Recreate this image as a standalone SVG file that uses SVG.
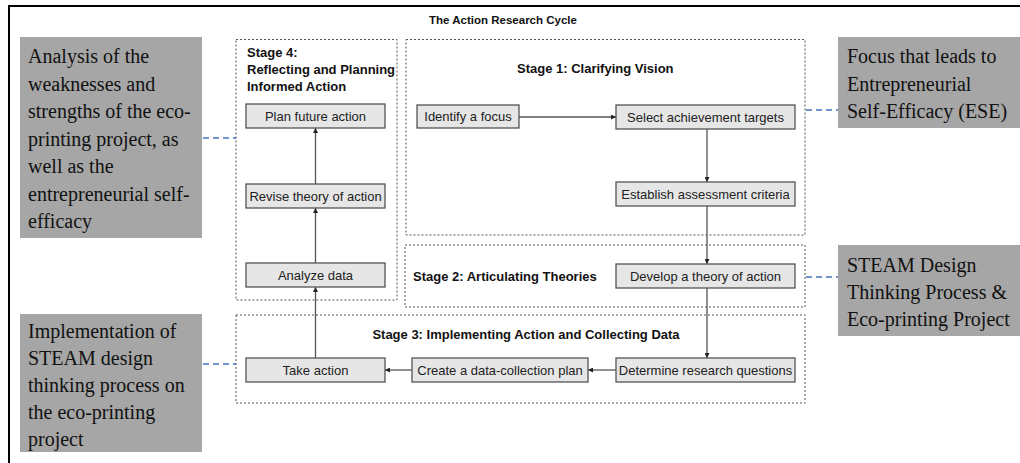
<svg xmlns="http://www.w3.org/2000/svg" width="1020" height="463" viewBox="0 0 1020 463">
<defs>
<style>
.stage{fill:none;stroke:#555;stroke-width:1;stroke-dasharray:2 2}
.node rect{fill:#e6e6e6;stroke:#555;stroke-width:1.3}
.node text{font-family:"Liberation Sans",Arial,sans-serif;font-size:13px;fill:#222;text-anchor:middle}
.stitle{font-family:"Liberation Sans",Arial,sans-serif;font-size:13px;font-weight:bold;fill:#111}
.call rect{fill:#a6a6a6}
.call text{font-family:"Liberation Serif","Times New Roman",serif;font-size:20px;fill:#111}
.conn{fill:none;stroke:#555;stroke-width:1.3}
.link{fill:none;stroke:#4472c4;stroke-width:1.6;stroke-dasharray:6 4}
</style>
<marker id="ah" viewBox="0 0 10 10" refX="10" refY="5" markerWidth="5" markerHeight="5" orient="auto" markerUnits="userSpaceOnUse">
<path d="M0,0 L10,5 L0,10 z" fill="#222"/>
</marker>
</defs>
<rect width="1020" height="463" fill="#fff"/>
<path d="M9,463 V6 H1020" fill="none" stroke="#000" stroke-width="2"/>
<text x="503" y="24" text-anchor="middle" font-family="'Liberation Sans',Arial,sans-serif" font-size="11.5" font-weight="bold" fill="#111">The Action Research Cycle</text>

<g id="stage1"><rect class="stage" x="406" y="39.5" width="399" height="195.5"/><text class="stitle" x="517" y="73">Stage 1: Clarifying Vision</text></g>
<g id="stage2"><rect class="stage" x="405" y="245" width="400" height="62"/><text class="stitle" x="413" y="281">Stage 2: Articulating Theories</text></g>
<g id="stage3"><rect class="stage" x="236" y="315" width="569" height="88"/><text class="stitle" x="526" y="339" text-anchor="middle">Stage 3: Implementing Action and Collecting Data</text></g>
<g id="stage4"><rect class="stage" x="236" y="39.5" width="161" height="260.5"/><text class="stitle" x="247" y="57">Stage 4:</text><text class="stitle" x="247" y="74">Reflecting and Planning</text><text class="stitle" x="247" y="91">Informed Action</text></g>

<g id="connectors">
<path class="conn" d="M519,117 H616" marker-end="url(#ah)"/>
<path class="conn" d="M707,129 V182" marker-end="url(#ah)"/>
<path class="conn" d="M707,206 V264" marker-end="url(#ah)"/>
<path class="conn" d="M707,288 V358" marker-end="url(#ah)"/>
<path class="conn" d="M616,370 H588" marker-end="url(#ah)"/>
<path class="conn" d="M412,370 H385" marker-end="url(#ah)"/>
<path class="conn" d="M315.5,358 V287" marker-end="url(#ah)"/>
<path class="conn" d="M315.5,263 V208" marker-end="url(#ah)"/>
<path class="conn" d="M315.5,184 V128" marker-end="url(#ah)"/>
<path class="link" d="M203,138 H236"/>
<path class="link" d="M203,364 H236"/>
<path class="link" d="M806,110 H838"/>
<path class="link" d="M806,277 H838"/>
</g>

<g id="n-identify" class="node"><rect x="417" y="105" width="102" height="23"/><text x="468" y="121">Identify a focus</text></g>
<g id="n-select" class="node"><rect x="616" y="105" width="179" height="24"/><text x="705.5" y="121.5">Select achievement targets</text></g>
<g id="n-establish" class="node"><rect x="616" y="182" width="179" height="24"/><text x="705.5" y="198.5">Establish assessment criteria</text></g>
<g id="n-develop" class="node"><rect x="616" y="264" width="179" height="24"/><text x="705.5" y="280.5">Develop a theory of action</text></g>
<g id="n-determine" class="node"><rect x="616" y="358" width="179" height="24"/><text x="705.5" y="374.5">Determine research questions</text></g>
<g id="n-create" class="node"><rect x="412" y="358" width="176" height="24"/><text x="500" y="374.5">Create a data-collection plan</text></g>
<g id="n-take" class="node"><rect x="246" y="358" width="139" height="24"/><text x="315.5" y="374.5">Take action</text></g>
<g id="n-analyze" class="node"><rect x="246" y="263" width="139" height="24"/><text x="315.5" y="279.5">Analyze data</text></g>
<g id="n-revise" class="node"><rect x="246" y="184" width="139" height="24"/><text x="315.5" y="200.5">Revise theory of action</text></g>
<g id="n-plan" class="node"><rect x="246" y="104" width="139" height="24"/><text x="315.5" y="120.5">Plan future action</text></g>

<g id="c-analysis" class="call"><rect x="20" y="37" width="182" height="201"/>
<text x="28" y="63">Analysis of the</text><text x="28" y="90.5">weaknesses and</text><text x="28" y="118">strengths of the eco-</text><text x="28" y="145.5">printing project, as</text><text x="28" y="173">well as the</text><text x="28" y="200.5">entrepreneurial self-</text><text x="28" y="228">efficacy</text></g>
<g id="c-implementation" class="call"><rect x="20" y="314" width="182" height="138"/>
<text x="28" y="338">Implementation of</text><text x="28" y="365">STEAM design</text><text x="28" y="392">thinking process on</text><text x="28" y="419">the eco-printing</text><text x="28" y="446">project</text></g>
<g id="c-focus" class="call"><rect x="838" y="37" width="182" height="91"/>
<text x="847" y="63">Focus that leads to</text><text x="847" y="91">Entrepreneurial</text><text x="847" y="118">Self-Efficacy (ESE)</text></g>
<g id="c-steam" class="call"><rect x="838" y="245" width="182" height="91"/>
<text x="847" y="272">STEAM Design</text><text x="847" y="299">Thinking Process &amp;</text><text x="847" y="326">Eco-printing Project</text></g>
</svg>
